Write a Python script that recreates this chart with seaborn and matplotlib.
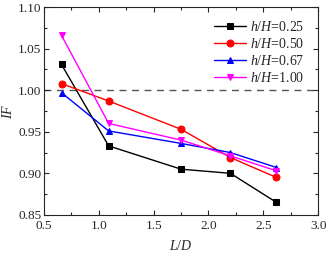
import numpy as np
import pandas as pd
import seaborn as sns
from matplotlib import pyplot as plt
from matplotlib.ticker import MultipleLocator

ld = [0.66, 1.09, 1.75, 2.20, 2.62]
if_025 = [1.031, 0.933, 0.905, 0.900, 0.865]
if_050 = [1.008, 0.987, 0.953, 0.919, 0.895]
if_067 = [0.997, 0.951, 0.936, 0.925, 0.907]
if_100 = [1.066, 0.960, 0.940, 0.921, 0.903]
labels = ['$h/H$=0.25', '$h/H$=0.50', '$h/H$=0.67', '$h/H$=1.00']

sns.set_style('ticks')
plt.rcParams['font.family'] = ['Liberation Serif', 'DejaVu Serif']
plt.rcParams['mathtext.fontset'] = 'custom'
plt.rcParams['mathtext.it'] = 'Liberation Serif:italic'
plt.rcParams['mathtext.rm'] = 'Liberation Serif'
plt.rcParams['xtick.direction'] = 'in'
plt.rcParams['ytick.direction'] = 'in'

df = pd.DataFrame({'ld': ld * 4,
                   'IF': if_025 + if_050 + if_067 + if_100,
                   'case': [l for l in labels for _ in ld]})

fig, ax = plt.subplots(figsize=(3.28, 2.54), dpi=100)
colors = ['black', 'red', 'blue', 'magenta']
markers = ['s', 'o', '^', 'v']
for lab, c, m in zip(labels, colors, markers):
    d = df[df['case'] == lab]
    sns.lineplot(data=d, x='ld', y='IF', color=c, marker=m, markersize=5,
                 markeredgecolor=c, linewidth=1, label=lab, ax=ax)

ax.axhline(1.0, color='#555555', linestyle=(0, (5, 4)), linewidth=1, zorder=0)
ax.set_xlim(0.5, 3.0)
ax.set_ylim(0.85, 1.10)
ax.xaxis.set_major_locator(MultipleLocator(0.5))
ax.xaxis.set_minor_locator(MultipleLocator(0.25))
ax.yaxis.set_major_locator(MultipleLocator(0.05))
ax.yaxis.set_minor_locator(MultipleLocator(0.025))
ax.tick_params(which='both', top=True, right=True, labelsize=9.5, width=0.8, pad=2)
ax.tick_params(axis='x', pad=3.5)
ax.tick_params(which='major', length=3.5)
ax.tick_params(which='minor', length=2)
for s in ax.spines.values():
    s.set_linewidth(0.8)
ax.set_xlabel('$L/D$', fontsize=10, labelpad=5)
ax.set_ylabel('$IF$', fontsize=10, labelpad=2)
leg = ax.legend(loc='upper right', fontsize=10, frameon=False,
                handlelength=2.3, labelspacing=0.22,
                borderpad=0.5, handletextpad=0.3, bbox_to_anchor=(1.0, 1.005))
plt.subplots_adjust(left=0.134, right=0.97, top=0.972, bottom=0.154)
plt.savefig('out.png', dpi=100)
